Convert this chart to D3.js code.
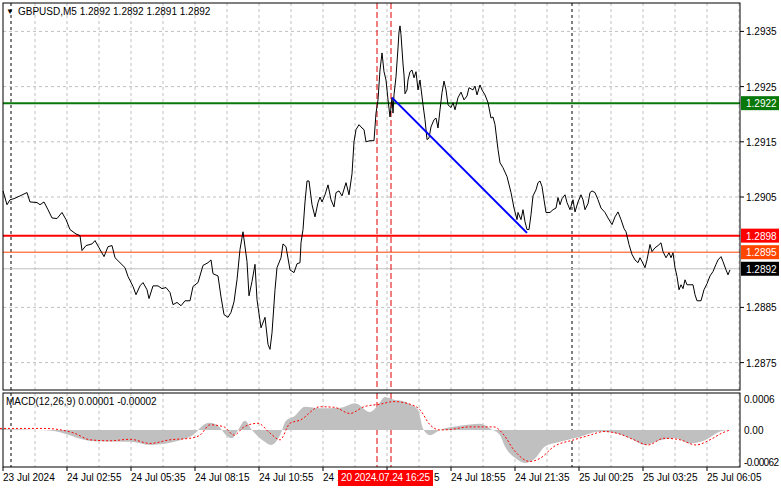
<!DOCTYPE html>
<html><head><meta charset="utf-8">
<script src="https://cdn.jsdelivr.net/npm/d3@7"></script>
<style>body{margin:0;background:#fff}svg{display:block}text{font-family:"Liberation Sans",Arial,sans-serif}</style>
</head><body><svg id="c" width="781" height="489"></svg>
<script>
// [bar index (5-min bars), close price]
const priceSeries = [[1.5,1.29061],[3.5,1.29036],[5,1.29045],[7,1.29047],[10,1.29052],[13.5,1.29058],[15,1.29041],[18.5,1.2904],[20,1.29036],[22,1.29041],[24,1.29027],[26,1.29012],[28.5,1.29011],[31,1.29022],[33,1.29009],[35,1.28991],[38,1.28983],[40,1.2898],[41,1.28953],[43,1.28962],[46,1.28965],[47.5,1.28971],[50,1.28955],[52,1.28942],[54,1.2896],[56,1.28962],[57.5,1.2894],[60,1.28931],[62.5,1.28922],[64,1.28906],[66.5,1.28888],[68,1.28873],[70,1.28889],[71.5,1.28895],[73.5,1.28882],[74.5,1.28866],[76.5,1.28889],[79,1.28889],[81,1.28884],[83,1.28886],[85,1.28877],[86.5,1.28855],[88.5,1.28859],[90.5,1.28853],[92.5,1.28862],[95,1.28862],[96.5,1.28888],[99,1.28895],[101.5,1.28926],[104,1.28931],[105.5,1.28936],[106.5,1.28911],[109,1.28907],[110.5,1.28869],[112,1.28837],[114,1.28832],[115.5,1.28841],[117,1.2886],[118.5,1.289],[120,1.28955],[121.5,1.28987],[123.5,1.28933],[124.5,1.28871],[126,1.28897],[127.5,1.28928],[128.5,1.28864],[130.5,1.28813],[132.5,1.28832],[134,1.28783],[135,1.28774],[136,1.28804],[137.5,1.28882],[138.5,1.28922],[140.5,1.2894],[141.5,1.28965],[143,1.2896],[145,1.28918],[147,1.28913],[148.5,1.28929],[150,1.28931],[150.5,1.28967],[151.5,1.28991],[152.5,1.29041],[153.5,1.29079],[154.5,1.29079],[156,1.29036],[157.5,1.29014],[159,1.2904],[160,1.2905],[161,1.29041],[162.5,1.29054],[164,1.29072],[165.5,1.29045],[167,1.29032],[168,1.29058],[169.5,1.29061],[171,1.29052],[173,1.29076],[174.5,1.29054],[176,1.29092],[177,1.2915],[178,1.29172],[179.5,1.29181],[181,1.29175],[182,1.29172],[183,1.2915],[185,1.29152],[187,1.29152],[188,1.29202],[189,1.29226],[190,1.2928],[191,1.29311],[192,1.29277],[193,1.29262],[194,1.29226],[195,1.29195],[196,1.2923],[196.5,1.29202],[197,1.29235],[198,1.29268],[199,1.2932],[199.5,1.29349],[200,1.2936],[200.5,1.29344],[201.5,1.29291],[202,1.29271],[202.5,1.29237],[203.5,1.29244],[204,1.29262],[205,1.29277],[206,1.2928],[207,1.29266],[208,1.29277],[209,1.29244],[210,1.29262],[211.5,1.29217],[212.5,1.2919],[213.5,1.29154],[214.5,1.29157],[215.5,1.29177],[217,1.2919],[218,1.29193],[219,1.29175],[220,1.29208],[221,1.29239],[222,1.2926],[223,1.29244],[224,1.29217],[225.5,1.29212],[226.5,1.29221],[227.5,1.29208],[229,1.2923],[230.5,1.2924],[232,1.29226],[233.5,1.29233],[234.5,1.29248],[236.5,1.29244],[237.5,1.29251],[238.5,1.29235],[240,1.29253],[241,1.29244],[242.5,1.29235],[244,1.29221],[245.5,1.29193],[246.5,1.29195],[247.5,1.29181],[249,1.29136],[250,1.29112],[251.5,1.29103],[253.5,1.29087],[255.5,1.29058],[257,1.2903],[258.5,1.29009],[259,1.29022],[260.5,1.29009],[261.5,1.29027],[262.5,1.29005],[263.5,1.28991],[264.5,1.28991],[265.5,1.29018],[266.5,1.29052],[268,1.29063],[269,1.29076],[270,1.29079],[271,1.29069],[272,1.29045],[273,1.29022],[275,1.29022],[276.5,1.29027],[278,1.2903],[279,1.29049],[280,1.29036],[281,1.29047],[282.5,1.29054],[283.5,1.2904],[285,1.29027],[286.5,1.29045],[287.5,1.29023],[289,1.29041],[290.5,1.29054],[291.5,1.29045],[292.5,1.29027],[294,1.29038],[295,1.29058],[296,1.29061],[297.5,1.29058],[299,1.29045],[300.5,1.2903],[302.5,1.29022],[304,1.29012],[306,1.29],[307.5,1.29014],[309,1.29023],[310.5,1.29009],[312,1.28993],[313,1.28987],[314.5,1.28964],[316,1.28946],[317.5,1.28936],[319,1.28931],[320,1.2894],[321,1.28933],[322.5,1.28922],[323.5,1.28936],[325,1.28964],[326,1.28951],[327.5,1.28958],[329,1.28962],[330.5,1.28967],[331.5,1.28951],[333,1.2894],[334.5,1.28949],[335.5,1.2894],[336.5,1.28949],[337.5,1.28922],[338.5,1.28906],[339.5,1.28882],[340.5,1.28891],[341.5,1.28884],[342.5,1.289],[343.5,1.28891],[346.5,1.28891],[347.5,1.28873],[348.5,1.28862],[350.5,1.28862],[352,1.28882],[353.5,1.28893],[355,1.28907],[356.5,1.28915],[358,1.28928],[359,1.28936],[360.5,1.28942],[361.5,1.28933],[363,1.28918],[364,1.28909],[365,1.28918]];
const macdHist = [[0,0.00002],[25,-0.00001],[47,-0.00022],[65,-0.00023],[75,-0.00029],[90,-0.0002],[98,-0.00005],[100,0.00004],[105,0.00014],[110,0.00005],[113,-0.0001],[116,-0.00016],[119,0],[122.5,0.00018],[126,0],[132,-0.00022],[135.5,-0.00029],[140,-0.0001],[143,0.00018],[147,0.00026],[152.5,0.00045],[160,0.00042],[170,0.00043],[177.5,0.00052],[185,0.00035],[189,0.00048],[192.5,0.00064],[197.5,0.00058],[200,0.00057],[205,0.0005],[209,0.00039],[211.5,0.00003],[215,-0.0001],[220,0],[230,0.00008],[240,0.00012],[245,0.00003],[250,-0.0001],[252.5,-0.00032],[257.5,-0.00054],[262.5,-0.00064],[267.5,-0.00055],[272.5,-0.00032],[280,-0.00023],[290,-0.00013],[300,-0.00003],[307.5,-0.00006],[315,-0.00016],[322.5,-0.00029],[330,-0.0002],[337.5,-0.00016],[345,-0.00026],[352.5,-0.0002],[360,-0.00003],[364,0]];
const macdSignal = [[0,0.00003],[22,0.00003],[37,-0.00006],[45,-0.00019],[55,-0.00021],[65,-0.00018],[75,-0.00026],[85,-0.00019],[95,-0.00016],[100,-0.0001],[105,0.0001],[112,0.00006],[117,-0.0001],[122,0.00006],[129,0.00013],[135,-0.00006],[140,-0.00019],[145,0.00013],[150,0.00019],[160,0.00045],[167,0.00044],[175,0.00032],[182,0.00045],[190,0.0005],[197,0.00055],[205,0.0005],[210,0.00039],[215,0.0001],[220,0],[225,0.00001],[235,0.00006],[247,0.00006],[252,-0.0001],[257,-0.00039],[265,-0.00061],[270,-0.00055],[277,-0.00032],[287,-0.00019],[295,-0.0001],[302,-0.00003],[310,-0.00008],[317,-0.00019],[324,-0.00029],[332,-0.00016],[340,-0.00019],[348,-0.00029],[355,-0.00019],[361,-0.00006],[365,0]];
const priceTicks = [1.2935,1.2925,1.2915,1.2905,1.2885,1.2875];
const macdTicks = [0.0006,0,-0.00062];
const macdTickLabels = ["0.0006","0.00","-0.00062"];
const timeLabels = ["23 Jul 2024","24 Jul 02:55","24 Jul 05:35","24 Jul 08:15","24 Jul 10:55","24 Jul 13:35","24 Jul 16:15","24 Jul 18:55","24 Jul 21:35","25 Jul 00:25","25 Jul 03:25","25 Jul 06:05"];
const timeLabelBars = [1.5,33.5,65.5,97.5,129.5,161.5,193.5,225.5,257.5,289.5,321.5,353.5];
const gridBars = d3.range(17.5,370,16);
const daySepBars = [5.5,286];
const markerBars = [188.5,195.5];
const levels = [{p:1.2922,c:"#087808",w:2,lab:"1.2922"},{p:1.2898,c:"#ff0000",w:2,lab:"1.2898"},{p:1.2895,c:"#ff4500",w:1,lab:"1.2895"}];
const currentPrice = 1.2892;
const trendLine = [[196,1.2923],[263.5,1.28985]];

const svg = d3.select("#c");
const L=3,R=740,T=3,PB=390,MT=393,MB=467;
const x = d3.scaleLinear().domain([0,370]).range([0,740]);
const y = d3.scaleLinear().domain([1.2935,1.2875]).range([31.4,362.6]);
const ym = d3.scaleLinear().domain([0.0006,-0.00062]).range([399,462]);

const g = svg.append("g");
gridBars.forEach(b=>{
  g.append("line").attr("x1",x(b)).attr("x2",x(b)).attr("y1",T).attr("y2",PB).attr("stroke","#c0c0c0").attr("stroke-dasharray","3,3");
  g.append("line").attr("x1",x(b)).attr("x2",x(b)).attr("y1",MT).attr("y2",MB).attr("stroke","#c0c0c0").attr("stroke-dasharray","3,3");
});
priceTicks.forEach(p=>g.append("line").attr("x1",L).attr("x2",R).attr("y1",y(p)).attr("y2",y(p)).attr("stroke","#c0c0c0").attr("stroke-dasharray","3,3"));
daySepBars.forEach(b=>{
  [[T,PB],[MT,MB]].forEach(r=>g.append("line").attr("x1",x(b)).attr("x2",x(b)).attr("y1",r[0]).attr("y2",r[1]).attr("stroke","#000").attr("stroke-dasharray","3,3"));
});
g.append("line").attr("x1",L).attr("x2",R).attr("y1",y(currentPrice)).attr("y2",y(currentPrice)).attr("stroke","#c0c0c0");
levels.forEach(l=>g.append("line").attr("x1",L).attr("x2",R).attr("y1",y(l.p)).attr("y2",y(l.p)).attr("stroke",l.c).attr("stroke-width",l.w));
markerBars.forEach(b=>{
  [[T,PB],[MT,MB]].forEach(r=>g.append("line").attr("x1",x(b)).attr("x2",x(b)).attr("y1",r[0]).attr("y2",r[1]).attr("stroke","#e00000").attr("stroke-dasharray","6,3"));
});
svg.append("path").datum(priceSeries).attr("fill","none").attr("stroke","#000").attr("stroke-width",1)
  .attr("d",d3.line().x(d=>x(d[0])).y(d=>y(d[1])));
svg.append("path").datum(trendLine).attr("fill","none").attr("stroke","#0000ff").attr("stroke-width",2)
  .attr("d",d3.line().x(d=>x(d[0])).y(d=>y(d[1])));
svg.append("path").datum(macdHist).attr("fill","#c0c0c0")
  .attr("d",d3.area().curve(d3.curveMonotoneX).x(d=>x(d[0])).y0(ym(0)).y1(d=>ym(d[1])));
svg.append("path").datum(macdSignal).attr("fill","none").attr("stroke","#ff0000").attr("stroke-dasharray","2,2")
  .attr("d",d3.line().curve(d3.curveMonotoneX).x(d=>x(d[0])).y(d=>ym(d[1])));

svg.append("rect").attr("x",L).attr("y",T).attr("width",R-L).attr("height",PB-T).attr("fill","none").attr("stroke","#000");
svg.append("rect").attr("x",L).attr("y",MT).attr("width",R-L).attr("height",MB-MT).attr("fill","none").attr("stroke","#000");

const fs="10px";
priceTicks.forEach(p=>{
  svg.append("line").attr("x1",R).attr("x2",R+4).attr("y1",y(p)).attr("y2",y(p)).attr("stroke","#000");
  svg.append("text").attr("x",746).attr("y",y(p)+4).attr("font-size",fs).text(d3.format(".4f")(p));
});
macdTicks.forEach((v,i)=>{
  svg.append("text").attr("x",744).attr("y",ym(v)+4).attr("font-size",fs).attr("textLength",i===2?35:null).text(macdTickLabels[i]);
});
levels.concat([{p:currentPrice,c:"#000",lab:"1.2892"}]).forEach(l=>{
  svg.append("rect").attr("x",741).attr("y",y(l.p)-7).attr("width",38).attr("height",14).attr("fill",l.c);
  svg.append("text").attr("x",746).attr("y",y(l.p)+4).attr("font-size",fs).attr("fill","#fff").text(l.lab);
});
timeLabels.forEach((t,i)=>{
  svg.append("line").attr("x1",x(timeLabelBars[i])).attr("x2",x(timeLabelBars[i])).attr("y1",MB).attr("y2",MB+4).attr("stroke","#000");
  if (i===5 || i===6) return; // hidden under the crosshair time label
  svg.append("text").attr("x",x(timeLabelBars[i])).attr("y",481).attr("font-size",fs).text(t);
});
svg.append("text").attr("x",x(timeLabelBars[5])).attr("y",481).attr("font-size",fs).text("24 1");
svg.append("text").attr("x",x(timeLabelBars[6])+47).attr("y",481).attr("font-size",fs).text("5");
svg.append("rect").attr("x",338).attr("y",470).attr("width",95).attr("height",16).attr("fill","#ff0000");
svg.append("text").attr("x",341).attr("y",481).attr("font-size",fs).attr("fill","#fff").attr("textLength",89).text("20 2024.07.24 16:25");
svg.append("text").attr("x",6).attr("y",14).attr("font-size","8px").text("▼");
svg.append("text").attr("x",18).attr("y",15).attr("font-size",fs).text("GBPUSD,M5  1.2892 1.2892 1.2891 1.2892");
svg.append("text").attr("x",6).attr("y",405).attr("font-size",fs).text("MACD(12,26,9) 0.00001 -0.00002");
</script></body></html>
